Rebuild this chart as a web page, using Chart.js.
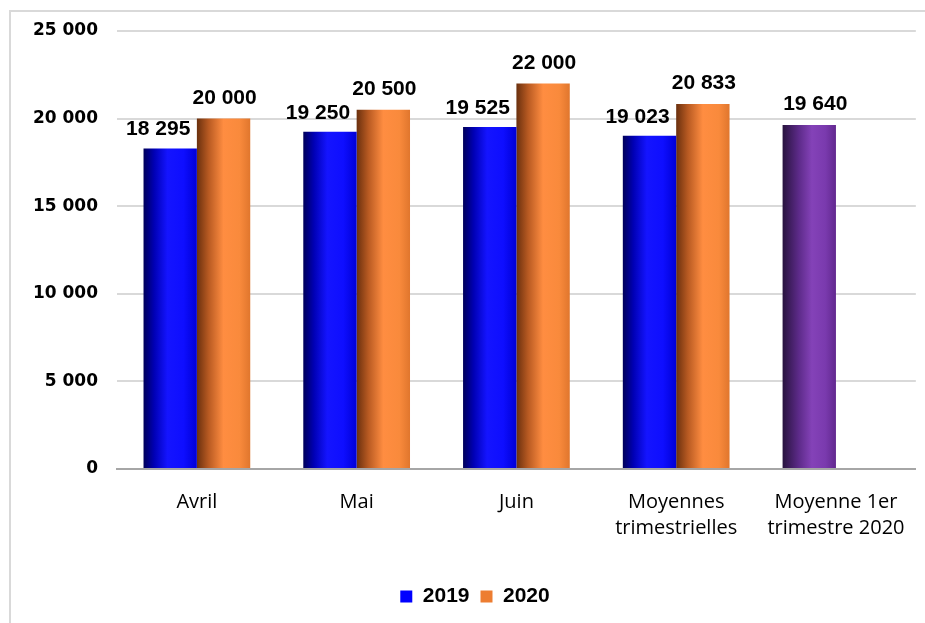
<!DOCTYPE html>
<html><head><meta charset="utf-8">
<script src="https://cdn.jsdelivr.net/npm/chart.js@4/dist/chart.umd.min.js"></script>
<style>
html,body{margin:0;padding:0;background:#fff;}
#wrap{position:relative;width:925px;height:623px;overflow:hidden;background:#fff;}
#frame{position:absolute;left:9px;top:10px;width:940px;height:640px;border-top:2px solid #d9d9d9;border-left:2px solid #d9d9d9;box-sizing:border-box;}
canvas{position:absolute;left:0;top:0;}
</style></head><body>
<div id="wrap"><div id="frame"></div><canvas id="c" width="925" height="623"></canvas></div>
<script>
const categories = ["Avril", "Mai", "Juin", ["Moyennes", "trimestrielles"], ["Moyenne 1er", "trimestre 2020"]];
const seriesNames = ["2019", "2020"];
const values2019 = [18295, 19250, 19525, 19023, 19640];
const values2020 = [20000, 20500, 22000, 20833, null];
const yTicks = [0, 5000, 10000, 15000, 20000, 25000];

const CAT_PCT = 0.668;
const fmt = v => String(v).replace(/\B(?=(\d{3})+(?!\d))/g, ' ');

const palettes = {
  blue:   [[0,'#00005a'],[0.2,'#0000b5'],[0.45,'#1414ff'],[0.75,'#0e0eff'],[1,'#0000d6']],
  orange: [[0,'#6a300e'],[0.22,'#b85a22'],[0.5,'#ff8d41'],[0.8,'#f98a3c'],[1,'#e0762d']],
  purple: [[0,'#28133e'],[0.3,'#5c2a88'],[0.55,'#8442b8'],[0.8,'#7a3aae'],[1,'#62288f']]
};
function barFill(c, pal) {
  const chart = c.chart;
  if (c.type !== 'data' || !chart.chartArea || !chart.scales.x) return pal[2][1];
  const xs = chart.scales.x;
  const catW = xs.width / categories.length;
  const bw = catW * CAT_PCT / 2;
  const cx = xs.getPixelForValue(c.dataIndex);
  const left = cx - bw + c.datasetIndex * bw;
  const g = chart.ctx.createLinearGradient(left, 0, left + bw, 0);
  pal.forEach(([o, col]) => g.addColorStop(o, col));
  return g;
}

const valueLabels = {
  id: 'valueLabels',
  afterDatasetsDraw(chart) {
    const ctx = chart.ctx;
    ctx.save();
    ctx.font = 'bold 21px "Liberation Sans", Arial, sans-serif';
    ctx.fillStyle = '#000';
    ctx.textAlign = 'center';
    ctx.textBaseline = 'alphabetic';
    chart.data.datasets.forEach((ds, di) => {
      const meta = chart.getDatasetMeta(di);
      meta.data.forEach((el, i) => {
        const v = ds.data[i];
        if (v == null) return;
        let shift = 1, gap = 15;
        if (di === 0) {
          const other = chart.data.datasets[1].data[i];
          shift = other == null ? 6 : -12;
          gap = other == null ? 15 : 13;
        }
        ctx.fillText(fmt(v), el.x + shift, el.y - gap);
      });
    });
    ctx.restore();
  }
};

const legendShift = {
  id: 'legendShift',
  afterLayout(chart) {
    if (chart.legend) { chart.legend.left += 15; chart.legend.right += 15; }
  }
};

new Chart(document.getElementById('c'), {
  type: 'bar',
  data: {
    labels: categories,
    datasets: [
      { label: seriesNames[0], data: values2019,
        backgroundColor: c => barFill(c, (c.dataIndex === 4 ? palettes.purple : palettes.blue)) },
      { label: seriesNames[1], data: values2020,
        backgroundColor: c => barFill(c, palettes.orange) }
    ]
  },
  options: {
    responsive: false,
    animation: false,
    events: [],
    categoryPercentage: CAT_PCT,
    barPercentage: 1.0,
    layout: { padding: { top: 31, right: 5, bottom: 6, left: 0 } },
    plugins: {
      tooltip: { enabled: false },
      legend: {
        position: 'bottom',
        labels: {
          boxWidth: 12, boxHeight: 12, padding: 11, color: '#000',
          font: { family: '"Liberation Sans", Arial, sans-serif', weight: 'bold', size: 21 },
          generateLabels: chart => chart.data.datasets.map((ds, i) => ({
            text: ds.label, fillStyle: i === 0 ? '#0000ff' : '#ed7d31',
            strokeStyle: 'rgba(0,0,0,0)', lineWidth: 0, datasetIndex: i, hidden: false, fontColor: '#000'
          }))
        }
      }
    },
    scales: {
      x: {
        ticks: { color: '#000', padding: 20, maxRotation: 0, autoSkip: false,
          font: { family: '"Open Sans", sans-serif', size: 20, lineHeight: 1.3 } },
        grid: { display: false, drawTicks: false },
        border: { display: true, color: '#a6a6a6', width: 2 },
        afterFit: s => { s.height = 106; }
      },
      y: {
        min: 0, max: 25000,
        afterBuildTicks: s => { s.ticks = yTicks.map(v => ({ value: v })); },
        ticks: { color: '#000', padding: 19, callback: v => fmt(v),
          font: { family: '"DejaVu Sans", sans-serif', weight: 'bold', size: 17 } },
        grid: { color: c => c.tick && c.tick.value === 0 ? 'rgba(0,0,0,0)' : '#d9d9d9', lineWidth: 2, drawTicks: false },
        border: { display: false },
        afterFit: s => { s.width = 117; }
      }
    }
  },
  plugins: [valueLabels, legendShift]
});
</script>
</body></html>
